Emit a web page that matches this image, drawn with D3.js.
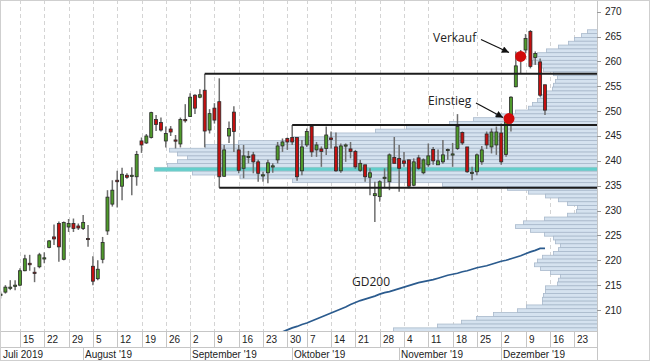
<!DOCTYPE html>
<html><head><meta charset="utf-8">
<script src="https://cdn.jsdelivr.net/npm/d3@7"></script>
<style>
body{margin:0;background:#fff}
svg{display:block}
text{font-family:"Liberation Sans",Arial,sans-serif;fill:#222}
</style>
</head><body>
<svg id="chart" width="650" height="361"></svg>
<script>
// ---------------- DATA ----------------
const sessions = [
 "07-09","07-10","07-11","07-12","07-15","07-16","07-17","07-18","07-19","07-22","07-23","07-24","07-25","07-26","07-29","07-30","07-31",
 "08-01","08-02","08-05","08-06","08-07","08-08","08-09","08-12","08-13","08-14","08-15","08-16","08-19","08-20","08-21","08-22","08-23","08-26","08-27","08-28","08-29","08-30",
 "09-02","09-03","09-04","09-05","09-06","09-09","09-10","09-11","09-12","09-13","09-16","09-17","09-18","09-19","09-20","09-23","09-24","09-25","09-26","09-27","09-30",
 "10-01","10-02","10-04","10-07","10-08","10-09","10-10","10-11","10-14","10-15","10-16","10-17","10-18","10-21","10-22","10-23","10-24","10-25","10-28","10-29","10-30","10-31",
 "11-01","11-04","11-05","11-06","11-07","11-08","11-11","11-12","11-13","11-14","11-15","11-18","11-19","11-20","11-21","11-22","11-25","11-26","11-27","11-28","11-29",
 "12-02","12-03","12-04","12-05","12-06","12-09","12-10","12-11","12-12","12-13",
 "12-16","12-17","12-18","12-19","12-20","12-23","12-27","12-30","12-31"
];
const openP  = [213.0,213.6,214.5,214.9,215.0,217.9,219.4,217.6,218.7,220.3,222.6,224.7,227.4,220.2,226.7,227.4,226.9,226.4,224.4,218.8,216.3,220.2,225.9,231.3,236.1,234.9,237.1,237.0,236.8,244.0,243.6,244.7,248.3,247.7,244.0,246.4,244.2,243.4,248.3,248.9,253.2,252.8,254.2,246.2,250.6,251.9,236.9,245.0,249.8,242.2,238.5,240.8,241.2,239.8,237.1,237.6,238.8,240.2,243.0,244.5,244.7,244.7,238.0,243.2,246.9,242.2,242.4,242.5,244.6,242.8,238.0,243.1,242.4,241.9,238.1,239.2,236.7,233.0,232.8,236.6,235.8,240.7,240.5,240.0,240.2,235.1,240.6,237.6,239.2,242.3,239.2,239.8,242.2,241.3,242.5,245.7,242.8,237.6,237.8,239.8,245.4,242.8,243.2,245.6,241.3,248.2,254.9,261.0,262.3,266.0,260.8,259.9,255.3];
const highP  = [213.7,215.0,216.0,216.0,218.4,221.1,221.1,218.6,221.5,221.6,224.1,227.2,227.8,227.8,228.3,228.4,227.4,229.1,227.1,220.8,220.0,224.7,234.1,236.1,238.0,238.6,237.5,238.7,242.0,244.7,245.4,249.9,249.2,248.7,246.9,247.0,245.2,248.7,251.4,253.6,253.4,254.4,257.5,250.4,251.6,256.6,243.2,247.9,251.0,243.2,243.2,242.0,241.8,240.2,237.8,240.2,239.5,243.8,244.5,244.7,247.2,244.7,244.2,246.5,247.2,243.8,242.9,246.9,245.9,245.7,243.5,243.5,243.8,242.2,240.2,239.2,238.5,235.8,236.1,238.5,241.5,244.8,243.2,241.8,240.2,240.5,241.2,240.5,243.5,242.8,242.3,244.2,242.5,243.6,249.4,245.9,242.8,238.8,241.5,243.0,245.9,246.5,246.9,247.5,248.8,253.0,262.0,262.3,265.5,266.3,262.0,260.6,255.3];
const lowP   = [212.3,213.3,214.0,214.0,214.8,217.8,217.9,215.6,218.4,219.4,222.4,223.1,219.7,220.0,225.7,225.7,226.1,226.1,222.7,215.0,216.0,219.4,225.1,230.8,230.6,232.1,236.4,233.1,235.0,241.6,243.4,244.5,246.0,245.9,242.7,245.0,242.5,242.7,247.7,248.8,249.4,252.6,242.7,245.5,247.5,234.6,236.8,243.6,241.8,237.5,236.5,239.5,237.5,235.8,235.8,235.5,237.6,239.5,241.8,242.2,243.2,236.0,237.1,242.8,240.8,240.8,238.8,241.2,242.5,237.8,237.6,239.8,240.5,238.4,237.8,235.8,233.1,227.7,231.8,234.5,234.1,239.5,233.8,238.8,234.5,234.9,238.2,237.3,238.8,239.2,239.2,239.4,240.2,238.8,242.2,243.2,237.6,236.1,237.1,239.2,242.4,241.5,241.2,239.2,240.8,245.9,254.8,257.6,261.6,258.6,259.3,252.9,249.2];
const closeP = [213.2,214.6,214.6,215.0,217.9,220.3,219.1,217.4,221.1,220.5,223.9,224.3,222.7,227.6,227.4,226.4,226.5,227.6,224.2,215.8,218.2,223.6,232.7,234.1,235.8,237.3,236.7,237.1,241.3,243.2,245.0,249.7,247.3,246.2,245.5,245.8,244.1,248.3,248.1,252.8,250.6,253.3,246.0,249.5,248.2,236.8,242.2,246.5,245.9,238.1,241.0,240.9,239.8,237.5,237.2,239.6,239.0,243.0,243.8,243.8,243.8,236.8,242.8,245.9,241.8,243.2,241.9,245.2,244.3,238.0,243.0,243.2,241.9,238.8,239.5,236.8,237.6,233.4,235.8,236.7,241.2,239.5,238.5,239.5,234.9,239.8,238.5,240.2,241.0,240.0,240.0,241.2,242.3,241.4,246.9,243.6,237.8,237.7,241.2,242.2,243.2,245.8,245.8,239.8,247.8,252.8,259.1,260.7,264.6,259.0,261.6,253.2,250.2];
// GD200 (200-day average), first index and values
const gdStart = 56;
const gd200 = [204.9,205.3,205.6,206.0,206.4,206.7,207.1,207.4,207.8,208.2,208.6,209.0,209.4,209.8,210.2,210.6,211.1,211.5,211.9,212.2,212.5,212.8,213.2,213.5,213.7,214.0,214.3,214.6,214.9,215.2,215.5,215.7,215.9,216.1,216.4,216.7,217.0,217.2,217.4,217.7,217.9,218.2,218.5,218.7,218.9,219.2,219.5,219.8,220.0,220.3,220.6,220.9,221.3,221.7,222.0,222.4,222.4];
// volume profile (top price, bin size, volumes from top to bottom)
const profileTop = 266.46;
const profileBin = 0.7686;
const profileVol = [10,16,23,29,39,51,60,64,65,59,54,44,40,42,44,45,51,57,60,65,69,82,102,124,148,191,222,267,305,359,392,428,420,410,420,430,443,405,357,305,155,90,69,52,39,30,20,21,30,53,74,82,67,53,44,42,37,39,44,55,60,63,57,47,37,39,40,52,52,54,55,55,71,80,104,121,136,160,204,248];
// horizontal levels: price and starting session index
const levelPrice = [257.5, 247.2, 234.6];
const levelStart = [42, 60, 45];
// signals
const signalName = ["Einstieg","Verkauf"];
const signalIdx = [104.6, 107.0];
const signalPrice = [248.5, 261.0];
// axes labels
const yTicks = [210,215,220,225,230,235,240,245,250,255,260,265,270];
const weekIdx = [4,9,14,19,24,29,34,39,44,49,54,59,63,68,73,78,83,88,93,98,103,108,113,118];
const weekLabel = ["15","22","29","5","12","19","26","2","9","16","23","30","7","14","21","28","4","11","18","25","2","9","16","23"];
const monthIdx = [0,17,39,60,82,103];
const monthLabel = ["Juli 2019","August '19","September '19","Oktober '19","November '19","Dezember '19"];

// ---------------- LAYOUT ----------------
const W = 650, H = 361;
const plotR = 597, plotB = 331;
const svg = d3.select("#chart");
const x = d3.scaleLinear().domain([-0.11, 122.7]).range([0, plotR]);
const y = d3.scaleLinear().domain([205.78, 272.35]).range([plotB, 0]);
const pv = d3.scaleLinear().domain([0, 600]).range([plotR, plotR - 600]);

svg.append("defs").append("clipPath").attr("id","plot")
  .append("rect").attr("x",0).attr("y",0).attr("width",plotR).attr("height",plotB);
svg.append("rect").attr("width",W).attr("height",H).attr("fill","#fff");

const plot = svg.append("g").attr("clip-path","url(#plot)");

// grid
plot.selectAll("line.grid").data(weekIdx).join("line")
  .attr("x1",d=>Math.round(x(d))+0.5).attr("x2",d=>Math.round(x(d))+0.5)
  .attr("y1",0).attr("y2",plotB)
  .attr("stroke","#d4d4d4").attr("stroke-dasharray","4,3");

// volume profile
const maxK = d3.maxIndex(profileVol);
plot.selectAll("rect.prof").data(profileVol).join("rect")
  .attr("x",d=>pv(d)+0.5)
  .attr("y",(d,k)=>y(profileTop - k*profileBin)+0.5)
  .attr("width",d=>plotR - pv(d))
  .attr("height",(d,k)=>y(profileTop-(k+1)*profileBin)-y(profileTop-k*profileBin))
  .attr("fill",(d,k)=>k===maxK?"#63cfcc":"#d5e2ef")
  .attr("stroke",(d,k)=>k===maxK?"#8fc9c9":"#a9b9cb")
  .attr("stroke-width",0.8);

// GD200
const gdLine = d3.line().x((d,i)=>x(gdStart+i)).y(d=>y(d));
plot.append("path").datum(gd200).attr("d",gdLine)
  .attr("fill","none").attr("stroke","#2b5b8e").attr("stroke-width",1.7);

// candles
const idx = d3.range(openP.length);
const cw = 3;
plot.selectAll("line.wick").data(idx).join("line")
  .attr("x1",i=>x(i)).attr("x2",i=>x(i))
  .attr("y1",i=>y(highP[i])).attr("y2",i=>y(lowP[i]))
  .attr("stroke","#6e6e6e").attr("stroke-width",1.5);
plot.selectAll("rect.body").data(idx).join("rect")
  .attr("x",i=>x(i)-cw/2)
  .attr("y",i=>y(Math.max(openP[i],closeP[i])))
  .attr("width",cw)
  .attr("height",i=>Math.max(1.2, Math.abs(y(openP[i])-y(closeP[i]))))
  .attr("fill",i=>closeP[i]>=openP[i]?"#4f9a2b":"#c40f0f")
  .attr("stroke","#2a2a2a").attr("stroke-width",0.8);

// levels
plot.selectAll("line.lvl").data(levelPrice).join("line")
  .attr("x1",(d,i)=>x(levelStart[i])).attr("x2",plotR)
  .attr("y1",d=>y(d)).attr("y2",d=>y(d))
  .attr("stroke","#1c1c1c").attr("stroke-width",2);

// signals
plot.selectAll("circle.sig").data(signalPrice).join("circle")
  .attr("cx",(d,i)=>x(signalIdx[i])).attr("cy",d=>y(d)).attr("r",5.5)
  .attr("fill","#d10a0a");

// annotations
const defs = svg.select("defs");
defs.append("marker").attr("id","arr").attr("viewBox","0 0 10 10")
  .attr("refX",10).attr("refY",5).attr("markerWidth",9).attr("markerHeight",7)
  .attr("markerUnits","userSpaceOnUse").attr("orient","auto")
  .append("path").attr("d","M0,0 L10,5 L0,10 z").attr("fill","#111");
const ann = [
  {t:signalName[1], tx:433, ty:42, x1:481, y1:39.5, x2:509, y2:52.5},
  {t:signalName[0], tx:428, ty:105, x1:476, y1:103, x2:503, y2:117.5}
];
ann.forEach(a=>{
  svg.append("line").attr("x1",a.x1).attr("y1",a.y1).attr("x2",a.x2).attr("y2",a.y2)
    .attr("stroke","#111").attr("stroke-width",1.2).attr("marker-end","url(#arr)");
  svg.append("text").attr("x",a.tx).attr("y",a.ty).text(a.t)
    .style("font-family","'Open Sans',sans-serif").style("font-size","12px");
});
svg.append("text").attr("x",352).attr("y",286).text("GD200")
  .style("font-family","'Open Sans',sans-serif").style("font-size","12px");

// frame / axes
const g = svg.append("g").attr("stroke","#c6c6c6").attr("shape-rendering","crispEdges");
g.append("line").attr("x1",plotR+0.5).attr("x2",plotR+0.5).attr("y1",0).attr("y2",H);
g.append("line").attr("x1",0).attr("x2",plotR).attr("y1",plotB+0.5).attr("y2",plotB+0.5);
g.append("line").attr("x1",0).attr("x2",plotR).attr("y1",347.5).attr("y2",347.5);
g.append("line").attr("x1",0).attr("x2",plotR).attr("y1",H-0.5).attr("y2",H-0.5);
g.selectAll("line.wk").data(weekIdx).join("line")
  .attr("x1",d=>Math.round(x(d))+0.5).attr("x2",d=>Math.round(x(d))+0.5)
  .attr("y1",plotB).attr("y2",347);
g.selectAll("line.mo").data(monthIdx.slice(1)).join("line")
  .attr("x1",d=>Math.round(x(d))+0.5).attr("x2",d=>Math.round(x(d))+0.5)
  .attr("y1",347).attr("y2",H);
g.selectAll("line.yt").data(yTicks).join("line")
  .attr("x1",plotR).attr("x2",plotR+4)
  .attr("y1",d=>Math.round(y(d))+0.5).attr("y2",d=>Math.round(y(d))+0.5)
  .attr("stroke","#999");
svg.append("rect").attr("x",0.5).attr("y",0.5).attr("width",W-1).attr("height",H-1)
  .attr("fill","none").attr("stroke","#cfcfcf");

svg.selectAll("text.yl").data(yTicks).join("text")
  .attr("x",605).attr("y",d=>y(d)+3.5).text(d=>d).style("font-size","10px");
svg.selectAll("text.wl").data(weekIdx).join("text")
  .attr("x",d=>Math.round(x(d))+3).attr("y",343).text((d,i)=>weekLabel[i]).style("font-size","10px");
svg.selectAll("text.ml").data(monthIdx).join("text")
  .attr("x",d=>Math.round(x(d))+2).attr("y",357.5).text((d,i)=>monthLabel[i]).style("font-size","10px");
</script>
</body></html>
